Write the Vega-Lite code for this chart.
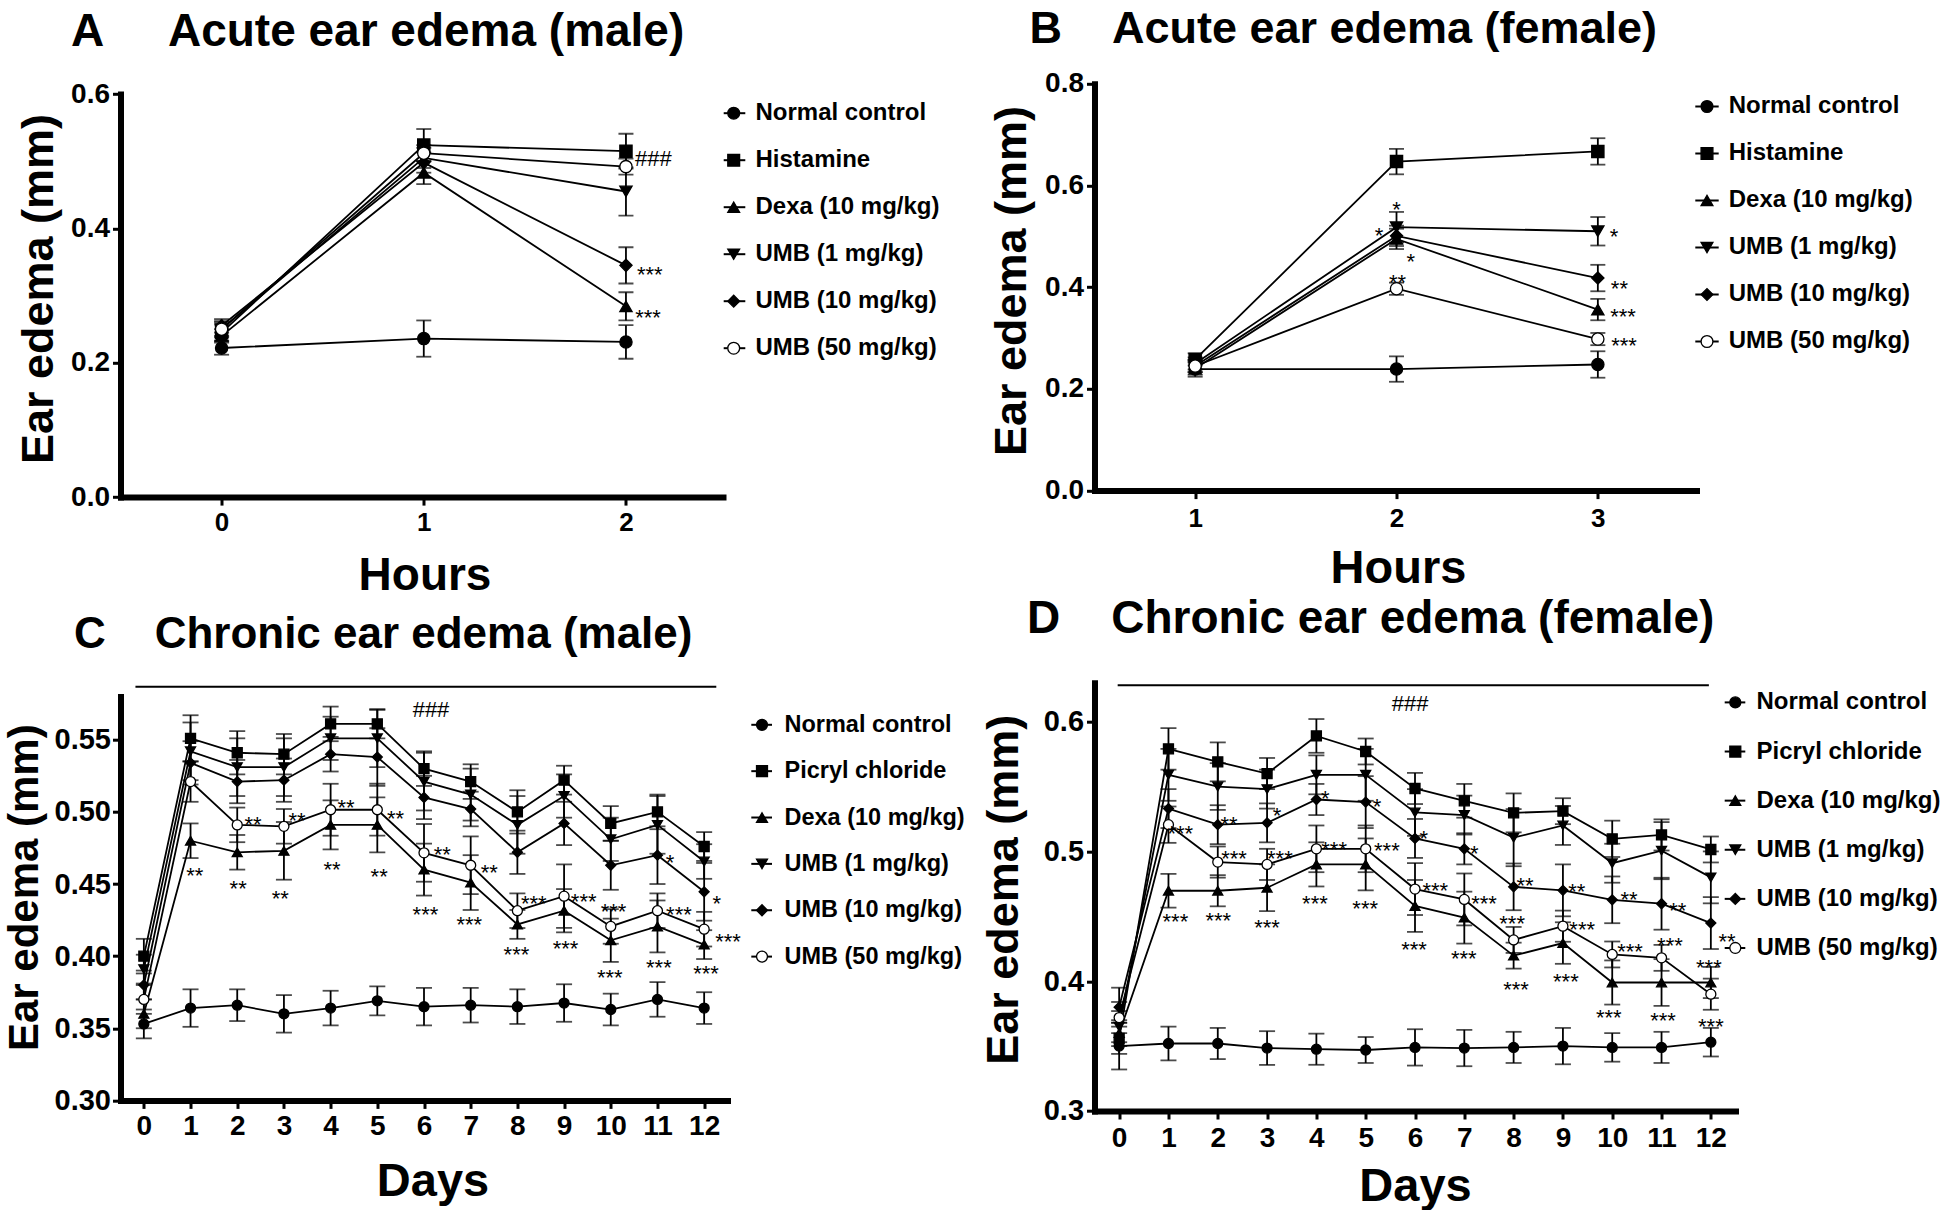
{
"$schema": "https://vega.github.io/schema/vega-lite/v6.json",
"background": "white",
"padding": {"left": 2.5, "top": 6.8, "right": 0, "bottom": 0},
"config": {
  "font": "Liberation Sans",
  "view": {"stroke": null},
  "axis": {"domainColor": "black", "domainWidth": 6, "domainCap": "square", "tickColor": "black", "tickWidth": 3, "tickSize": 8, "labelColor": "black", "labelFontWeight": "bold", "titleColor": "black", "titleFontWeight": "bold", "grid": false, "labelFont": "Liberation Sans", "titleFont": "Liberation Sans"},
  "title": {"font": "Liberation Sans", "fontWeight": "bold", "color": "black", "anchor": "start", "frame": "group", "baseline": "alphabetic"}
},
"datasets": {
  "panelA": [
    {"group":"Normal control","time":0,"edema":0.222,"sem":0.010},{"group":"Normal control","time":1,"edema":0.236,"sem":0.027},{"group":"Normal control","time":2,"edema":0.231,"sem":0.025},
    {"group":"Histamine","time":0,"edema":0.245,"sem":0.012},{"group":"Histamine","time":1,"edema":0.524,"sem":0.024},{"group":"Histamine","time":2,"edema":0.515,"sem":0.026},
    {"group":"Dexa (10 mg/kg)","time":0,"edema":0.240,"sem":0.010},{"group":"Dexa (10 mg/kg)","time":1,"edema":0.483,"sem":0.017},{"group":"Dexa (10 mg/kg)","time":2,"edema":0.284,"sem":0.021},
    {"group":"UMB (1 mg/kg)","time":0,"edema":0.250,"sem":0.010},{"group":"UMB (1 mg/kg)","time":1,"edema":0.505,"sem":0.015},{"group":"UMB (1 mg/kg)","time":2,"edema":0.455,"sem":0.036},
    {"group":"UMB (10 mg/kg)","time":0,"edema":0.255,"sem":0.010},{"group":"UMB (10 mg/kg)","time":1,"edema":0.498,"sem":0.015},{"group":"UMB (10 mg/kg)","time":2,"edema":0.345,"sem":0.027},
    {"group":"UMB (50 mg/kg)","time":0,"edema":0.250,"sem":0.012},{"group":"UMB (50 mg/kg)","time":1,"edema":0.512,"sem":0.012},{"group":"UMB (50 mg/kg)","time":2,"edema":0.492,"sem":0.012}
  ],
  "panelB": [
    {"group":"Normal control","time":1,"edema":0.239,"sem":0.015},{"group":"Normal control","time":2,"edema":0.239,"sem":0.025},{"group":"Normal control","time":3,"edema":0.248,"sem":0.026},
    {"group":"Histamine","time":1,"edema":0.258,"sem":0.012},{"group":"Histamine","time":2,"edema":0.647,"sem":0.025},{"group":"Histamine","time":3,"edema":0.667,"sem":0.026},
    {"group":"Dexa (10 mg/kg)","time":1,"edema":0.240,"sem":0.012},{"group":"Dexa (10 mg/kg)","time":2,"edema":0.495,"sem":0.020},{"group":"Dexa (10 mg/kg)","time":3,"edema":0.356,"sem":0.021},
    {"group":"UMB (1 mg/kg)","time":1,"edema":0.250,"sem":0.012},{"group":"UMB (1 mg/kg)","time":2,"edema":0.518,"sem":0.030},{"group":"UMB (1 mg/kg)","time":3,"edema":0.510,"sem":0.028},
    {"group":"UMB (10 mg/kg)","time":1,"edema":0.245,"sem":0.012},{"group":"UMB (10 mg/kg)","time":2,"edema":0.501,"sem":0.020},{"group":"UMB (10 mg/kg)","time":3,"edema":0.418,"sem":0.026},
    {"group":"UMB (50 mg/kg)","time":1,"edema":0.245,"sem":0.012},{"group":"UMB (50 mg/kg)","time":2,"edema":0.397,"sem":0.012},{"group":"UMB (50 mg/kg)","time":3,"edema":0.298,"sem":0.012}
  ],
  "panelC": [
    {"group":"Normal control","time":0,"edema":0.353,"sem":0.010},{"group":"Normal control","time":1,"edema":0.364,"sem":0.013},{"group":"Normal control","time":2,"edema":0.366,"sem":0.011},{"group":"Normal control","time":3,"edema":0.360,"sem":0.013},{"group":"Normal control","time":4,"edema":0.364,"sem":0.012},{"group":"Normal control","time":5,"edema":0.369,"sem":0.010},{"group":"Normal control","time":6,"edema":0.365,"sem":0.013},{"group":"Normal control","time":7,"edema":0.366,"sem":0.012},{"group":"Normal control","time":8,"edema":0.365,"sem":0.012},{"group":"Normal control","time":9,"edema":0.3675,"sem":0.013},{"group":"Normal control","time":10,"edema":0.363,"sem":0.011},{"group":"Normal control","time":11,"edema":0.370,"sem":0.012},{"group":"Normal control","time":12,"edema":0.364,"sem":0.011},
    {"group":"Picryl chloride","time":0,"edema":0.400,"sem":0.012},{"group":"Picryl chloride","time":1,"edema":0.551,"sem":0.016},{"group":"Picryl chloride","time":2,"edema":0.541,"sem":0.015},{"group":"Picryl chloride","time":3,"edema":0.540,"sem":0.014},{"group":"Picryl chloride","time":4,"edema":0.561,"sem":0.012},{"group":"Picryl chloride","time":5,"edema":0.561,"sem":0.010},{"group":"Picryl chloride","time":6,"edema":0.530,"sem":0.012},{"group":"Picryl chloride","time":7,"edema":0.521,"sem":0.012},{"group":"Picryl chloride","time":8,"edema":0.500,"sem":0.015},{"group":"Picryl chloride","time":9,"edema":0.522,"sem":0.010},{"group":"Picryl chloride","time":10,"edema":0.492,"sem":0.012},{"group":"Picryl chloride","time":11,"edema":0.500,"sem":0.012},{"group":"Picryl chloride","time":12,"edema":0.476,"sem":0.010},
    {"group":"Dexa (10 mg/kg)","time":0,"edema":0.360,"sem":0.010},{"group":"Dexa (10 mg/kg)","time":1,"edema":0.480,"sem":0.012},{"group":"Dexa (10 mg/kg)","time":2,"edema":0.472,"sem":0.012},{"group":"Dexa (10 mg/kg)","time":3,"edema":0.473,"sem":0.020},{"group":"Dexa (10 mg/kg)","time":4,"edema":0.491,"sem":0.017},{"group":"Dexa (10 mg/kg)","time":5,"edema":0.491,"sem":0.019},{"group":"Dexa (10 mg/kg)","time":6,"edema":0.460,"sem":0.018},{"group":"Dexa (10 mg/kg)","time":7,"edema":0.451,"sem":0.019},{"group":"Dexa (10 mg/kg)","time":8,"edema":0.422,"sem":0.010},{"group":"Dexa (10 mg/kg)","time":9,"edema":0.4315,"sem":0.015},{"group":"Dexa (10 mg/kg)","time":10,"edema":0.411,"sem":0.015},{"group":"Dexa (10 mg/kg)","time":11,"edema":0.4206,"sem":0.018},{"group":"Dexa (10 mg/kg)","time":12,"edema":0.408,"sem":0.010},
    {"group":"UMB (1 mg/kg)","time":0,"edema":0.391,"sem":0.010},{"group":"UMB (1 mg/kg)","time":1,"edema":0.542,"sem":0.020},{"group":"UMB (1 mg/kg)","time":2,"edema":0.531,"sem":0.020},{"group":"UMB (1 mg/kg)","time":3,"edema":0.531,"sem":0.020},{"group":"UMB (1 mg/kg)","time":4,"edema":0.551,"sem":0.015},{"group":"UMB (1 mg/kg)","time":5,"edema":0.551,"sem":0.020},{"group":"UMB (1 mg/kg)","time":6,"edema":0.521,"sem":0.020},{"group":"UMB (1 mg/kg)","time":7,"edema":0.512,"sem":0.018},{"group":"UMB (1 mg/kg)","time":8,"edema":0.491,"sem":0.020},{"group":"UMB (1 mg/kg)","time":9,"edema":0.511,"sem":0.015},{"group":"UMB (1 mg/kg)","time":10,"edema":0.481,"sem":0.015},{"group":"UMB (1 mg/kg)","time":11,"edema":0.491,"sem":0.020},{"group":"UMB (1 mg/kg)","time":12,"edema":0.4656,"sem":0.012},
    {"group":"UMB (10 mg/kg)","time":0,"edema":0.380,"sem":0.010},{"group":"UMB (10 mg/kg)","time":1,"edema":0.534,"sem":0.015},{"group":"UMB (10 mg/kg)","time":2,"edema":0.521,"sem":0.015},{"group":"UMB (10 mg/kg)","time":3,"edema":0.522,"sem":0.015},{"group":"UMB (10 mg/kg)","time":4,"edema":0.540,"sem":0.012},{"group":"UMB (10 mg/kg)","time":5,"edema":0.538,"sem":0.020},{"group":"UMB (10 mg/kg)","time":6,"edema":0.510,"sem":0.015},{"group":"UMB (10 mg/kg)","time":7,"edema":0.502,"sem":0.012},{"group":"UMB (10 mg/kg)","time":8,"edema":0.472,"sem":0.015},{"group":"UMB (10 mg/kg)","time":9,"edema":0.492,"sem":0.015},{"group":"UMB (10 mg/kg)","time":10,"edema":0.463,"sem":0.017},{"group":"UMB (10 mg/kg)","time":11,"edema":0.470,"sem":0.020},{"group":"UMB (10 mg/kg)","time":12,"edema":0.4446,"sem":0.020},
    {"group":"UMB (50 mg/kg)","time":0,"edema":0.370,"sem":0.010},{"group":"UMB (50 mg/kg)","time":1,"edema":0.521,"sem":0.014},{"group":"UMB (50 mg/kg)","time":2,"edema":0.491,"sem":0.012},{"group":"UMB (50 mg/kg)","time":3,"edema":0.490,"sem":0.012},{"group":"UMB (50 mg/kg)","time":4,"edema":0.5015,"sem":0.018},{"group":"UMB (50 mg/kg)","time":5,"edema":0.5015,"sem":0.018},{"group":"UMB (50 mg/kg)","time":6,"edema":0.4716,"sem":0.020},{"group":"UMB (50 mg/kg)","time":7,"edema":0.463,"sem":0.020},{"group":"UMB (50 mg/kg)","time":8,"edema":0.4315,"sem":0.012},{"group":"UMB (50 mg/kg)","time":9,"edema":0.4416,"sem":0.022},{"group":"UMB (50 mg/kg)","time":10,"edema":0.4206,"sem":0.012},{"group":"UMB (50 mg/kg)","time":11,"edema":0.4315,"sem":0.012},{"group":"UMB (50 mg/kg)","time":12,"edema":0.4187,"sem":0.012}
  ],
  "panelD": [
    {"group":"Normal control","time":0,"edema":0.350,"sem":0.018},{"group":"Normal control","time":1,"edema":0.352,"sem":0.013},{"group":"Normal control","time":2,"edema":0.352,"sem":0.012},{"group":"Normal control","time":3,"edema":0.3485,"sem":0.013},{"group":"Normal control","time":4,"edema":0.3476,"sem":0.012},{"group":"Normal control","time":5,"edema":0.347,"sem":0.010},{"group":"Normal control","time":6,"edema":0.349,"sem":0.014},{"group":"Normal control","time":7,"edema":0.3485,"sem":0.014},{"group":"Normal control","time":8,"edema":0.349,"sem":0.012},{"group":"Normal control","time":9,"edema":0.350,"sem":0.014},{"group":"Normal control","time":10,"edema":0.349,"sem":0.011},{"group":"Normal control","time":11,"edema":0.349,"sem":0.012},{"group":"Normal control","time":12,"edema":0.353,"sem":0.011},
    {"group":"Picryl chloride","time":0,"edema":0.356,"sem":0.012},{"group":"Picryl chloride","time":1,"edema":0.579,"sem":0.016},{"group":"Picryl chloride","time":2,"edema":0.569,"sem":0.015},{"group":"Picryl chloride","time":3,"edema":0.560,"sem":0.012},{"group":"Picryl chloride","time":4,"edema":0.589,"sem":0.013},{"group":"Picryl chloride","time":5,"edema":0.577,"sem":0.010},{"group":"Picryl chloride","time":6,"edema":0.5485,"sem":0.012},{"group":"Picryl chloride","time":7,"edema":0.539,"sem":0.013},{"group":"Picryl chloride","time":8,"edema":0.5297,"sem":0.015},{"group":"Picryl chloride","time":9,"edema":0.531,"sem":0.010},{"group":"Picryl chloride","time":10,"edema":0.5097,"sem":0.014},{"group":"Picryl chloride","time":11,"edema":0.5127,"sem":0.012},{"group":"Picryl chloride","time":12,"edema":0.5015,"sem":0.010},
    {"group":"Dexa (10 mg/kg)","time":0,"edema":0.360,"sem":0.010},{"group":"Dexa (10 mg/kg)","time":1,"edema":0.4697,"sem":0.013},{"group":"Dexa (10 mg/kg)","time":2,"edema":0.4697,"sem":0.012},{"group":"Dexa (10 mg/kg)","time":3,"edema":0.472,"sem":0.018},{"group":"Dexa (10 mg/kg)","time":4,"edema":0.490,"sem":0.017},{"group":"Dexa (10 mg/kg)","time":5,"edema":0.490,"sem":0.020},{"group":"Dexa (10 mg/kg)","time":6,"edema":0.458,"sem":0.020},{"group":"Dexa (10 mg/kg)","time":7,"edema":0.449,"sem":0.020},{"group":"Dexa (10 mg/kg)","time":8,"edema":0.4197,"sem":0.010},{"group":"Dexa (10 mg/kg)","time":9,"edema":0.4294,"sem":0.016},{"group":"Dexa (10 mg/kg)","time":10,"edema":0.399,"sem":0.017},{"group":"Dexa (10 mg/kg)","time":11,"edema":0.399,"sem":0.018},{"group":"Dexa (10 mg/kg)","time":12,"edema":0.399,"sem":0.012},
    {"group":"UMB (1 mg/kg)","time":0,"edema":0.365,"sem":0.012},{"group":"UMB (1 mg/kg)","time":1,"edema":0.559,"sem":0.020},{"group":"UMB (1 mg/kg)","time":2,"edema":0.550,"sem":0.018},{"group":"UMB (1 mg/kg)","time":3,"edema":0.548,"sem":0.015},{"group":"UMB (1 mg/kg)","time":4,"edema":0.559,"sem":0.015},{"group":"UMB (1 mg/kg)","time":5,"edema":0.559,"sem":0.020},{"group":"UMB (1 mg/kg)","time":6,"edema":0.530,"sem":0.018},{"group":"UMB (1 mg/kg)","time":7,"edema":0.528,"sem":0.015},{"group":"UMB (1 mg/kg)","time":8,"edema":0.5106,"sem":0.022},{"group":"UMB (1 mg/kg)","time":9,"edema":0.520,"sem":0.015},{"group":"UMB (1 mg/kg)","time":10,"edema":0.4909,"sem":0.015},{"group":"UMB (1 mg/kg)","time":11,"edema":0.5006,"sem":0.022},{"group":"UMB (1 mg/kg)","time":12,"edema":0.480,"sem":0.020},
    {"group":"UMB (10 mg/kg)","time":0,"edema":0.380,"sem":0.015},{"group":"UMB (10 mg/kg)","time":1,"edema":0.533,"sem":0.015},{"group":"UMB (10 mg/kg)","time":2,"edema":0.5206,"sem":0.015},{"group":"UMB (10 mg/kg)","time":3,"edema":0.522,"sem":0.015},{"group":"UMB (10 mg/kg)","time":4,"edema":0.540,"sem":0.012},{"group":"UMB (10 mg/kg)","time":5,"edema":0.538,"sem":0.020},{"group":"UMB (10 mg/kg)","time":6,"edema":0.510,"sem":0.015},{"group":"UMB (10 mg/kg)","time":7,"edema":0.502,"sem":0.012},{"group":"UMB (10 mg/kg)","time":8,"edema":0.4727,"sem":0.018},{"group":"UMB (10 mg/kg)","time":9,"edema":0.470,"sem":0.020},{"group":"UMB (10 mg/kg)","time":10,"edema":0.4627,"sem":0.018},{"group":"UMB (10 mg/kg)","time":11,"edema":0.4597,"sem":0.020},{"group":"UMB (10 mg/kg)","time":12,"edema":0.4448,"sem":0.020},
    {"group":"UMB (50 mg/kg)","time":0,"edema":0.372,"sem":0.012},{"group":"UMB (50 mg/kg)","time":1,"edema":0.5206,"sem":0.014},{"group":"UMB (50 mg/kg)","time":2,"edema":0.4918,"sem":0.012},{"group":"UMB (50 mg/kg)","time":3,"edema":0.490,"sem":0.012},{"group":"UMB (50 mg/kg)","time":4,"edema":0.502,"sem":0.018},{"group":"UMB (50 mg/kg)","time":5,"edema":0.502,"sem":0.018},{"group":"UMB (50 mg/kg)","time":6,"edema":0.471,"sem":0.020},{"group":"UMB (50 mg/kg)","time":7,"edema":0.463,"sem":0.020},{"group":"UMB (50 mg/kg)","time":8,"edema":0.4318,"sem":0.010},{"group":"UMB (50 mg/kg)","time":9,"edema":0.4424,"sem":0.012},{"group":"UMB (50 mg/kg)","time":10,"edema":0.4206,"sem":0.010},{"group":"UMB (50 mg/kg)","time":11,"edema":0.418,"sem":0.010},{"group":"UMB (50 mg/kg)","time":12,"edema":0.390,"sem":0.012}
  ],
  "annA": [
    {"time":2.136,"edema":0.513,"label":"###"},{"time":2.118,"edema":0.339,"label":"***"},{"time":2.109,"edema":0.276,"label":"***"}
  ],
  "annB": [
    {"time":2.0,"edema":0.563,"label":"*"},{"time":1.913,"edema":0.512,"label":"*"},{"time":2.071,"edema":0.461,"label":"*"},{"time":2.005,"edema":0.420,"label":"**"},
    {"time":3.08,"edema":0.510,"label":"*"},{"time":3.107,"edema":0.409,"label":"**"},{"time":3.125,"edema":0.354,"label":"***"},{"time":3.13,"edema":0.296,"label":"***"}
  ],
  "annC": [
    {"time":6.15,"edema":0.575,"label":"###"},
    {"time":1.09,"edema":0.460,"label":"**"},
    {"time":2.34,"edema":0.495,"label":"**"},{"time":2.02,"edema":0.451,"label":"**"},
    {"time":3.28,"edema":0.498,"label":"**"},{"time":2.92,"edema":0.444,"label":"**"},
    {"time":4.33,"edema":0.507,"label":"**"},{"time":4.03,"edema":0.464,"label":"**"},
    {"time":5.39,"edema":0.499,"label":"**"},{"time":5.04,"edema":0.459,"label":"**"},
    {"time":6.39,"edema":0.474,"label":"**"},{"time":6.03,"edema":0.433,"label":"***"},
    {"time":7.40,"edema":0.462,"label":"**"},{"time":6.97,"edema":0.426,"label":"***"},
    {"time":8.35,"edema":0.440,"label":"***"},{"time":7.98,"edema":0.405,"label":"***"},
    {"time":9.42,"edema":0.442,"label":"***"},{"time":9.03,"edema":0.409,"label":"***"},
    {"time":10.06,"edema":0.435,"label":"***"},{"time":9.98,"edema":0.389,"label":"***"},
    {"time":11.27,"edema":0.469,"label":"*"},{"time":11.46,"edema":0.433,"label":"***"},{"time":11.03,"edema":0.396,"label":"***"},
    {"time":12.27,"edema":0.440,"label":"*"},{"time":12.51,"edema":0.414,"label":"***"},{"time":12.04,"edema":0.392,"label":"***"}
  ],
  "annD": [
    {"time":5.90,"edema":0.618,"label":"###"},
    {"time":1.24,"edema":0.518,"label":"***"},{"time":1.14,"edema":0.450,"label":"***"},
    {"time":2.23,"edema":0.525,"label":"**"},{"time":2.33,"edema":0.499,"label":"***"},{"time":2.01,"edema":0.451,"label":"***"},
    {"time":3.20,"edema":0.532,"label":"*"},{"time":3.26,"edema":0.499,"label":"***"},{"time":3.00,"edema":0.446,"label":"***"},
    {"time":4.18,"edema":0.545,"label":"*"},{"time":4.36,"edema":0.506,"label":"***"},{"time":3.97,"edema":0.464,"label":"***"},
    {"time":5.23,"edema":0.539,"label":"*"},{"time":5.43,"edema":0.505,"label":"***"},{"time":4.99,"edema":0.460,"label":"***"},
    {"time":6.18,"edema":0.514,"label":"*"},{"time":6.41,"edema":0.474,"label":"***"},{"time":5.98,"edema":0.429,"label":"***"},
    {"time":7.20,"edema":0.503,"label":"*"},{"time":7.40,"edema":0.464,"label":"***"},{"time":6.99,"edema":0.422,"label":"***"},
    {"time":8.23,"edema":0.478,"label":"**"},{"time":7.97,"edema":0.449,"label":"***"},{"time":8.05,"edema":0.398,"label":"***"},
    {"time":9.28,"edema":0.473,"label":"**"},{"time":9.39,"edema":0.444,"label":"***"},{"time":9.06,"edema":0.404,"label":"***"},
    {"time":10.34,"edema":0.467,"label":"**"},{"time":10.36,"edema":0.427,"label":"***"},{"time":9.93,"edema":0.376,"label":"***"},
    {"time":11.33,"edema":0.459,"label":"**"},{"time":11.17,"edema":0.432,"label":"***"},{"time":11.03,"edema":0.374,"label":"***"},
    {"time":12.33,"edema":0.435,"label":"**"},{"time":11.96,"edema":0.415,"label":"***"},{"time":12.00,"edema":0.369,"label":"***"}
  ],
  "bracketC": [{"time":-0.18,"time_end":12.26,"edema":0.5867}],
  "bracketD": [{"time":-0.03,"time_end":11.96,"edema":0.628}],
  "legendAcute": [
    {"slot":0,"group":"Normal control"},{"slot":1,"group":"Histamine"},{"slot":2,"group":"Dexa (10 mg/kg)"},{"slot":3,"group":"UMB (1 mg/kg)"},{"slot":4,"group":"UMB (10 mg/kg)"},{"slot":5,"group":"UMB (50 mg/kg)"}
  ],
  "legendChronic": [
    {"slot":0,"group":"Normal control"},{"slot":1,"group":"Picryl chloride"},{"slot":2,"group":"Dexa (10 mg/kg)"},{"slot":3,"group":"UMB (1 mg/kg)"},{"slot":4,"group":"UMB (10 mg/kg)"},{"slot":5,"group":"UMB (50 mg/kg)"}
  ]
},
"columns": 4,
"spacing": {"row": 184.9, "column": 0},
"bounds": "flush",
"concat": [
  {
    "width": 602.5, "height": 413.3,
    "title": {"text": "A\u00a0\u00a0\u00a0\u00a0\u00a0Acute ear edema (male)", "fontSize": 46, "dx": -49.6, "offset": 24},
    "data": {"name": "panelA"},
    "encoding": {
      "x": {"field": "time", "type": "quantitative", "scale": {"domain": [-0.5, 2.48], "nice": false, "zero": false}, "axis": {"values": [0, 1, 2], "format": "d", "title": "Hours", "labelFontSize": 26, "labelPadding": 4, "titleFontSize": 46, "titleX": 304, "titleY": 56}},
      "y": {"field": "edema", "type": "quantitative", "scale": {"domain": [0, 0.6], "range": [413.3, 10.3], "nice": false, "zero": false}, "axis": {"values": [0, 0.2, 0.4, 0.6], "format": ".1f", "title": "Ear edema (mm)", "labelFontSize": 28, "labelPadding": 3, "titleFontSize": 45, "titleX": -58.8, "titleY": 204.7}}
    },
    "layer": [
      {"mark": {"type": "line", "color": "black", "strokeWidth": 1.8}, "encoding": {"detail": {"field": "group", "type": "nominal"}}},
      {"mark": {"type": "errorbar", "color": "black", "thickness": 1.8, "ticks": {"size": 15, "thickness": 1.8}}, "encoding": {"yError": {"field": "sem"}}},
      {"mark": {"type": "point", "filled": true, "size": 150, "stroke": "black", "strokeWidth": 1.3, "opacity": 1}, "encoding": {
        "shape": {"field": "group", "type": "nominal", "legend": null, "scale": {"domain": ["Normal control","Histamine","Picryl chloride","Dexa (10 mg/kg)","UMB (1 mg/kg)","UMB (10 mg/kg)","UMB (50 mg/kg)"], "range": ["circle","square","square","triangle-up","triangle-down","diamond","circle"]}},
        "fill": {"field": "group", "type": "nominal", "legend": null, "scale": {"domain": ["Normal control","Histamine","Picryl chloride","Dexa (10 mg/kg)","UMB (1 mg/kg)","UMB (10 mg/kg)","UMB (50 mg/kg)"], "range": ["black","black","black","black","black","black","white"]}}}},
      {"data": {"name": "annA"}, "mark": {"type": "text", "fontSize": 22, "align": "center", "baseline": "middle", "dy": 6, "color": "black"}, "encoding": {"text": {"field": "label"}}}
    ]
  },
  {
    "width": 367, "height": 300,
    "data": {"name": "legendAcute"},
    "encoding": {"y": {"field": "slot", "type": "quantitative", "scale": {"domain": [0, 5], "range": [29.4, 264.4]}, "axis": null}},
    "layer": [
      {"mark": {"type": "rule", "color": "black", "strokeWidth": 2}, "encoding": {"x": {"datum": -3.8, "type": "quantitative", "scale": {"domain": [0, 367], "nice": false, "zero": false}, "axis": null}, "x2": {"datum": 17.8}}},
      {"mark": {"type": "point", "filled": true, "size": 140, "stroke": "black", "strokeWidth": 1.3, "opacity": 1}, "encoding": {"x": {"datum": 6.2, "type": "quantitative", "scale": {"domain": [0, 367], "nice": false, "zero": false}, "axis": null},
        "shape": {"field": "group", "type": "nominal", "legend": null, "scale": {"domain": ["Normal control","Histamine","Picryl chloride","Dexa (10 mg/kg)","UMB (1 mg/kg)","UMB (10 mg/kg)","UMB (50 mg/kg)"], "range": ["circle","square","square","triangle-up","triangle-down","diamond","circle"]}},
        "fill": {"field": "group", "type": "nominal", "legend": null, "scale": {"domain": ["Normal control","Histamine","Picryl chloride","Dexa (10 mg/kg)","UMB (1 mg/kg)","UMB (10 mg/kg)","UMB (50 mg/kg)"], "range": ["black","black","black","black","black","black","white"]}}}},
      {"mark": {"type": "text", "fontSize": 24, "fontWeight": "bold", "align": "left", "baseline": "middle", "color": "black"}, "encoding": {"x": {"datum": 28, "type": "quantitative", "scale": {"domain": [0, 367], "nice": false, "zero": false}, "axis": null}, "text": {"field": "group"}}}
    ]
  },
  {
    "width": 602, "height": 406.8,
    "title": {"text": "B\u00a0\u00a0\u00a0\u00a0Acute ear edema (female)", "fontSize": 45, "dx": -65, "offset": 17.5},
    "data": {"name": "panelB"},
    "encoding": {
      "x": {"field": "time", "type": "quantitative", "scale": {"domain": [0.5, 3.49], "nice": false, "zero": false}, "axis": {"values": [1, 2, 3], "format": "d", "title": "Hours", "labelFontSize": 26, "labelPadding": 7, "titleFontSize": 47, "titleX": 303.5, "titleY": 54.5}},
      "y": {"field": "edema", "type": "quantitative", "scale": {"domain": [0, 0.8], "nice": false, "zero": false}, "axis": {"values": [0, 0.2, 0.4, 0.6, 0.8], "format": ".1f", "title": "Ear edema (mm)", "labelFontSize": 28, "labelPadding": 3, "titleFontSize": 45, "titleX": -60, "titleY": 196.7}}
    },
    "layer": [
      {"mark": {"type": "line", "color": "black", "strokeWidth": 1.8}, "encoding": {"detail": {"field": "group", "type": "nominal"}}},
      {"mark": {"type": "errorbar", "color": "black", "thickness": 1.8, "ticks": {"size": 15, "thickness": 1.8}}, "encoding": {"yError": {"field": "sem"}}},
      {"mark": {"type": "point", "filled": true, "size": 150, "stroke": "black", "strokeWidth": 1.3, "opacity": 1}, "encoding": {
        "shape": {"field": "group", "type": "nominal", "legend": null, "scale": {"domain": ["Normal control","Histamine","Picryl chloride","Dexa (10 mg/kg)","UMB (1 mg/kg)","UMB (10 mg/kg)","UMB (50 mg/kg)"], "range": ["circle","square","square","triangle-up","triangle-down","diamond","circle"]}},
        "fill": {"field": "group", "type": "nominal", "legend": null, "scale": {"domain": ["Normal control","Histamine","Picryl chloride","Dexa (10 mg/kg)","UMB (1 mg/kg)","UMB (10 mg/kg)","UMB (50 mg/kg)"], "range": ["black","black","black","black","black","black","white"]}}}},
      {"data": {"name": "annB"}, "mark": {"type": "text", "fontSize": 22, "align": "center", "baseline": "middle", "dy": 6, "color": "black"}, "encoding": {"text": {"field": "label"}}}
    ]
  },
  {
    "width": 212, "height": 300,
    "data": {"name": "legendAcute"},
    "encoding": {"y": {"field": "slot", "type": "quantitative", "scale": {"domain": [0, 5], "range": [22.7, 257.7]}, "axis": null}},
    "layer": [
      {"mark": {"type": "rule", "color": "black", "strokeWidth": 2}, "encoding": {"x": {"datum": -40.2, "type": "quantitative", "scale": {"domain": [0, 212], "nice": false, "zero": false}, "axis": null}, "x2": {"datum": -16.8}}},
      {"mark": {"type": "point", "filled": true, "size": 140, "stroke": "black", "strokeWidth": 1.3, "opacity": 1}, "encoding": {"x": {"datum": -28.5, "type": "quantitative", "scale": {"domain": [0, 212], "nice": false, "zero": false}, "axis": null},
        "shape": {"field": "group", "type": "nominal", "legend": null, "scale": {"domain": ["Normal control","Histamine","Picryl chloride","Dexa (10 mg/kg)","UMB (1 mg/kg)","UMB (10 mg/kg)","UMB (50 mg/kg)"], "range": ["circle","square","square","triangle-up","triangle-down","diamond","circle"]}},
        "fill": {"field": "group", "type": "nominal", "legend": null, "scale": {"domain": ["Normal control","Histamine","Picryl chloride","Dexa (10 mg/kg)","UMB (1 mg/kg)","UMB (10 mg/kg)","UMB (50 mg/kg)"], "range": ["black","black","black","black","black","black","white"]}}}},
      {"mark": {"type": "text", "fontSize": 24, "fontWeight": "bold", "align": "left", "baseline": "middle", "color": "black"}, "encoding": {"x": {"datum": -6.7, "type": "quantitative", "scale": {"domain": [0, 212], "nice": false, "zero": false}, "axis": null}, "text": {"field": "group"}}}
    ]
  },
  {
    "width": 607, "height": 417.7,
    "title": {"text": "C\u00a0\u00a0\u00a0\u00a0Chronic ear edema (male)", "fontSize": 44, "dx": -46.5, "offset": 26},
    "data": {"name": "panelC"},
    "encoding": {
      "x": {"field": "time", "type": "quantitative", "scale": {"domain": [-0.5, 12.5], "nice": false, "zero": false}, "axis": {"values": [0,1,2,3,4,5,6,7,8,9,10,11,12], "format": "d", "title": "Days", "labelFontSize": 28, "labelPadding": 4.6, "titleFontSize": 47, "titleX": 312, "titleY": 58.3}},
      "y": {"field": "edema", "type": "quantitative", "scale": {"domain": [0.30, 0.58], "range": [417.7, 13.8], "nice": false, "zero": false}, "axis": {"values": [0.30, 0.35, 0.40, 0.45, 0.50, 0.55], "format": ".2f", "title": "Ear edema (mm)", "labelFontSize": 29, "labelPadding": 2, "titleFontSize": 42, "titleX": -74, "titleY": 204.5}}
    },
    "layer": [
      {"data": {"name": "bracketC"}, "mark": {"type": "rule", "color": "black", "strokeWidth": 2}, "encoding": {"x2": {"field": "time_end"}}},
      {"mark": {"type": "line", "color": "black", "strokeWidth": 1.8}, "encoding": {"detail": {"field": "group", "type": "nominal"}}},
      {"mark": {"type": "errorbar", "color": "black", "thickness": 1.8, "ticks": {"size": 16, "thickness": 1.8}}, "encoding": {"yError": {"field": "sem"}}},
      {"mark": {"type": "point", "filled": true, "size": 100, "stroke": "black", "strokeWidth": 1.3, "opacity": 1}, "encoding": {
        "shape": {"field": "group", "type": "nominal", "legend": null, "scale": {"domain": ["Normal control","Histamine","Picryl chloride","Dexa (10 mg/kg)","UMB (1 mg/kg)","UMB (10 mg/kg)","UMB (50 mg/kg)"], "range": ["circle","square","square","triangle-up","triangle-down","diamond","circle"]}},
        "fill": {"field": "group", "type": "nominal", "legend": null, "scale": {"domain": ["Normal control","Histamine","Picryl chloride","Dexa (10 mg/kg)","UMB (1 mg/kg)","UMB (10 mg/kg)","UMB (50 mg/kg)"], "range": ["black","black","black","black","black","black","white"]}}}},
      {"data": {"name": "annC"}, "mark": {"type": "text", "fontSize": 22, "align": "center", "baseline": "middle", "dy": 6, "color": "black"}, "encoding": {"text": {"field": "label"}}}
    ]
  },
  {
    "width": 367, "height": 300,
    "data": {"name": "legendChronic"},
    "encoding": {"y": {"field": "slot", "type": "quantitative", "scale": {"domain": [0, 5], "range": [42.1, 273.9]}, "axis": null}},
    "layer": [
      {"mark": {"type": "rule", "color": "black", "strokeWidth": 2}, "encoding": {"x": {"datum": 23.8, "type": "quantitative", "scale": {"domain": [0, 367], "nice": false, "zero": false}, "axis": null}, "x2": {"datum": 44.5}}},
      {"mark": {"type": "point", "filled": true, "size": 120, "stroke": "black", "strokeWidth": 1.3, "opacity": 1}, "encoding": {"x": {"datum": 34.5, "type": "quantitative", "scale": {"domain": [0, 367], "nice": false, "zero": false}, "axis": null},
        "shape": {"field": "group", "type": "nominal", "legend": null, "scale": {"domain": ["Normal control","Histamine","Picryl chloride","Dexa (10 mg/kg)","UMB (1 mg/kg)","UMB (10 mg/kg)","UMB (50 mg/kg)"], "range": ["circle","square","square","triangle-up","triangle-down","diamond","circle"]}},
        "fill": {"field": "group", "type": "nominal", "legend": null, "scale": {"domain": ["Normal control","Histamine","Picryl chloride","Dexa (10 mg/kg)","UMB (1 mg/kg)","UMB (10 mg/kg)","UMB (50 mg/kg)"], "range": ["black","black","black","black","black","black","white"]}}}},
      {"mark": {"type": "text", "fontSize": 23.5, "fontWeight": "bold", "align": "left", "baseline": "middle", "color": "black"}, "encoding": {"x": {"datum": 57, "type": "quantitative", "scale": {"domain": [0, 367], "nice": false, "zero": false}, "axis": null}, "text": {"field": "group"}}}
    ]
  },
  {
    "width": 641, "height": 428.3,
    "title": {"text": "D\u00a0\u00a0\u00a0\u00a0Chronic ear edema (female)", "fontSize": 46, "dx": -67.5, "offset": 39.5},
    "data": {"name": "panelD"},
    "encoding": {
      "x": {"field": "time", "type": "quantitative", "scale": {"domain": [-0.5, 12.5], "nice": false, "zero": false}, "axis": {"values": [0,1,2,3,4,5,6,7,8,9,10,11,12], "format": "d", "title": "Days", "labelFontSize": 28, "labelPadding": 5.7, "titleFontSize": 47, "titleX": 320.5, "titleY": 52.7}},
      "y": {"field": "edema", "type": "quantitative", "scale": {"domain": [0.3, 0.63], "nice": false, "zero": false}, "axis": {"values": [0.3, 0.4, 0.5, 0.6], "format": ".1f", "title": "Ear edema (mm)", "labelFontSize": 29, "labelPadding": 3, "titleFontSize": 45, "titleX": -67.5, "titleY": 206.5}}
    },
    "layer": [
      {"data": {"name": "bracketD"}, "mark": {"type": "rule", "color": "black", "strokeWidth": 2}, "encoding": {"x2": {"field": "time_end"}}},
      {"mark": {"type": "line", "color": "black", "strokeWidth": 1.8}, "encoding": {"detail": {"field": "group", "type": "nominal"}}},
      {"mark": {"type": "errorbar", "color": "black", "thickness": 1.8, "ticks": {"size": 16, "thickness": 1.8}}, "encoding": {"yError": {"field": "sem"}}},
      {"mark": {"type": "point", "filled": true, "size": 100, "stroke": "black", "strokeWidth": 1.3, "opacity": 1}, "encoding": {
        "shape": {"field": "group", "type": "nominal", "legend": null, "scale": {"domain": ["Normal control","Histamine","Picryl chloride","Dexa (10 mg/kg)","UMB (1 mg/kg)","UMB (10 mg/kg)","UMB (50 mg/kg)"], "range": ["circle","square","square","triangle-up","triangle-down","diamond","circle"]}},
        "fill": {"field": "group", "type": "nominal", "legend": null, "scale": {"domain": ["Normal control","Histamine","Picryl chloride","Dexa (10 mg/kg)","UMB (1 mg/kg)","UMB (10 mg/kg)","UMB (50 mg/kg)"], "range": ["black","black","black","black","black","black","white"]}}}},
      {"data": {"name": "annD"}, "mark": {"type": "text", "fontSize": 22, "align": "center", "baseline": "middle", "dy": 6, "color": "black"}, "encoding": {"text": {"field": "label"}}}
    ]
  },
  {
    "width": 212, "height": 300,
    "data": {"name": "legendChronic"},
    "encoding": {"y": {"field": "slot", "type": "quantitative", "scale": {"domain": [0, 5], "range": [19.7, 265.3]}, "axis": null}},
    "layer": [
      {"mark": {"type": "rule", "color": "black", "strokeWidth": 2}, "encoding": {"x": {"datum": -10.8, "type": "quantitative", "scale": {"domain": [0, 212], "nice": false, "zero": false}, "axis": null}, "x2": {"datum": 9.8}}},
      {"mark": {"type": "point", "filled": true, "size": 120, "stroke": "black", "strokeWidth": 1.3, "opacity": 1}, "encoding": {"x": {"datum": -0.2, "type": "quantitative", "scale": {"domain": [0, 212], "nice": false, "zero": false}, "axis": null},
        "shape": {"field": "group", "type": "nominal", "legend": null, "scale": {"domain": ["Normal control","Histamine","Picryl chloride","Dexa (10 mg/kg)","UMB (1 mg/kg)","UMB (10 mg/kg)","UMB (50 mg/kg)"], "range": ["circle","square","square","triangle-up","triangle-down","diamond","circle"]}},
        "fill": {"field": "group", "type": "nominal", "legend": null, "scale": {"domain": ["Normal control","Histamine","Picryl chloride","Dexa (10 mg/kg)","UMB (1 mg/kg)","UMB (10 mg/kg)","UMB (50 mg/kg)"], "range": ["black","black","black","black","black","black","white"]}}}},
      {"mark": {"type": "text", "fontSize": 24, "fontWeight": "bold", "align": "left", "baseline": "middle", "color": "black"}, "encoding": {"x": {"datum": 21, "type": "quantitative", "scale": {"domain": [0, 212], "nice": false, "zero": false}, "axis": null}, "text": {"field": "group"}}}
    ]
  }
]
}
